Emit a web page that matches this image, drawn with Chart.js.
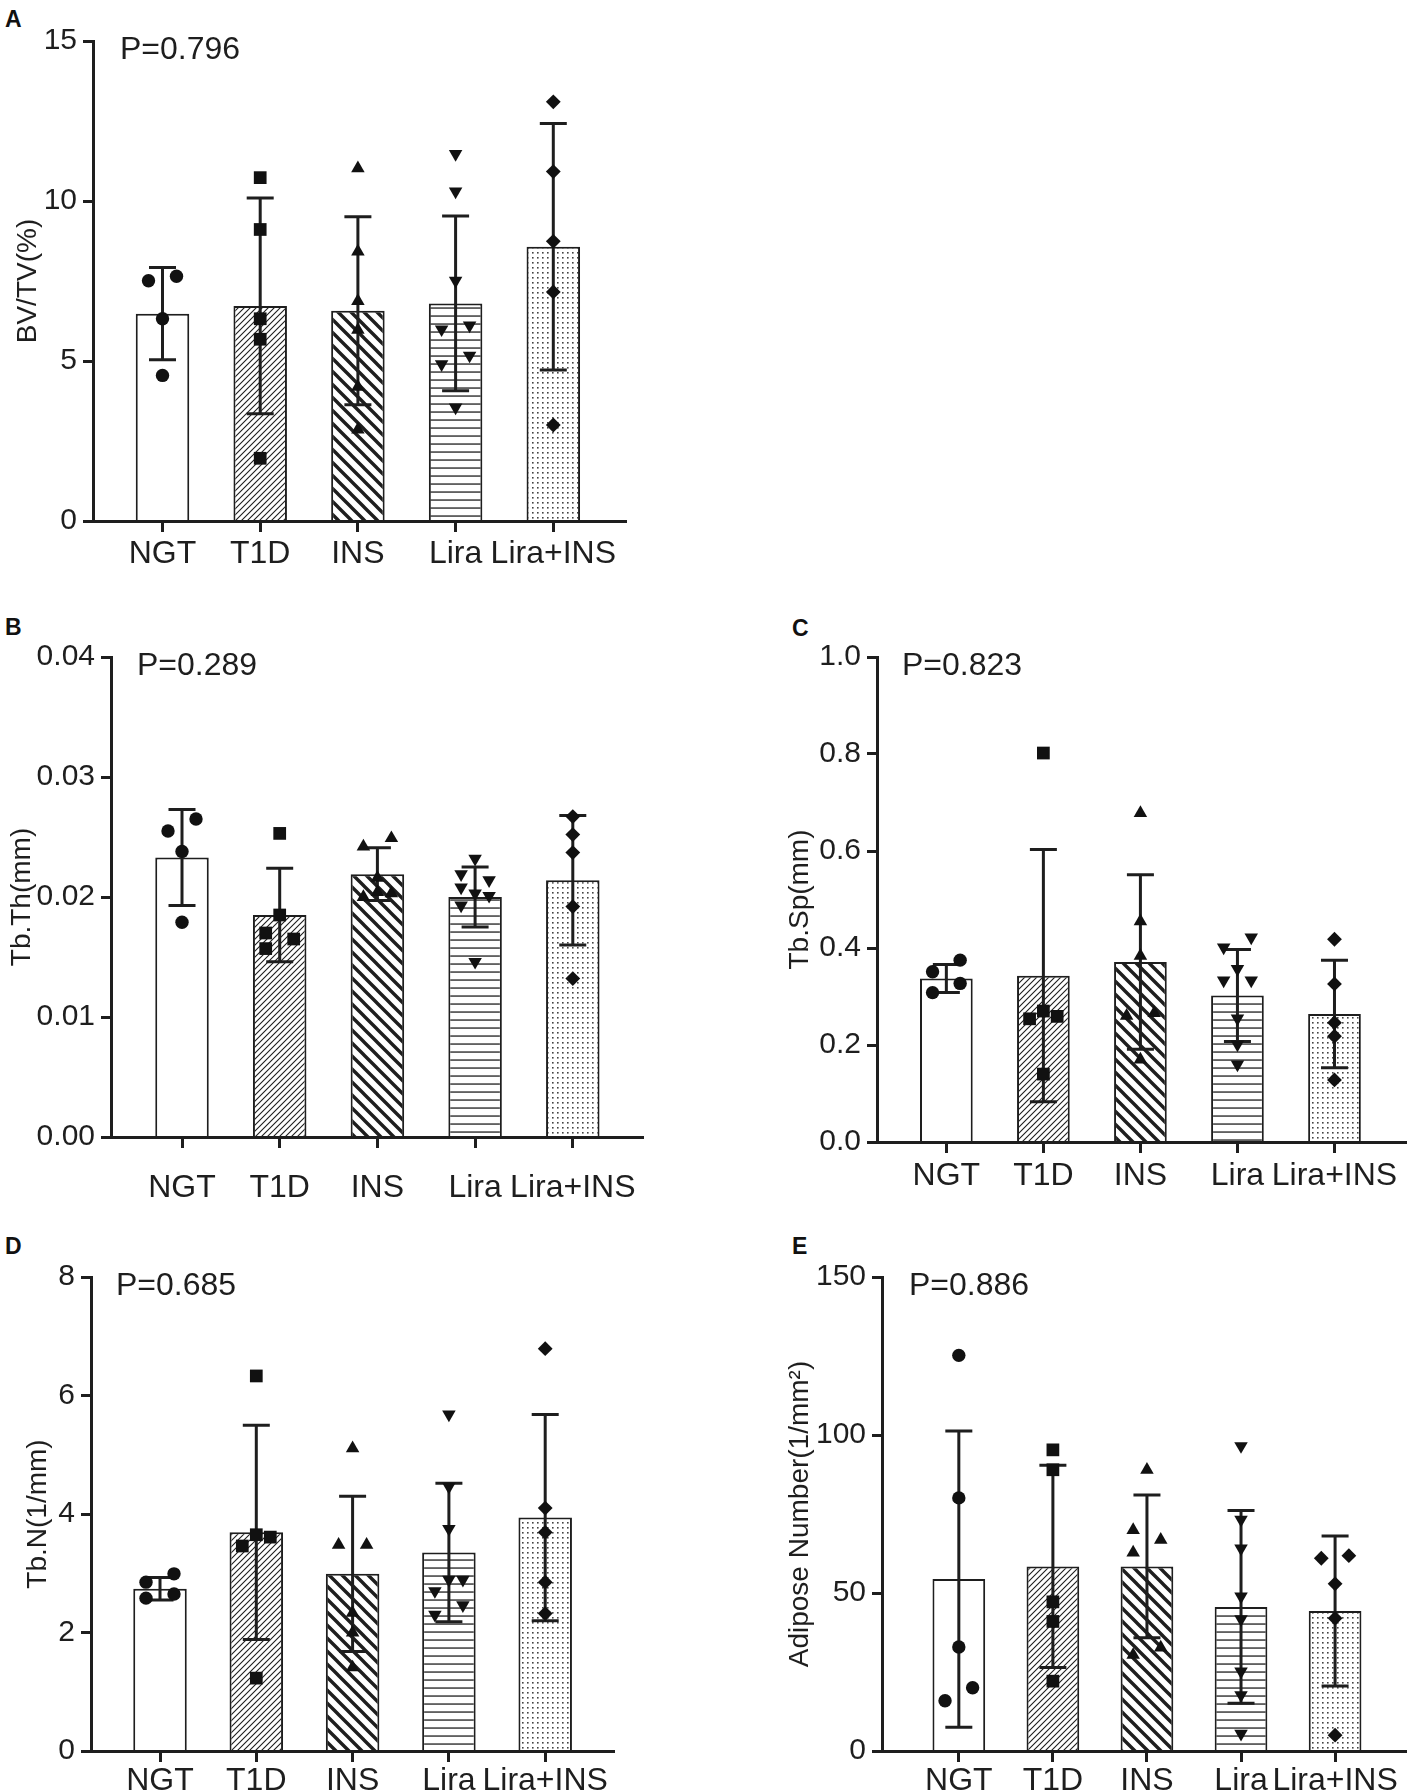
<!DOCTYPE html>
<html>
<head>
<meta charset="utf-8">
<script src="https://cdn.jsdelivr.net/npm/chart.js@4.4.0/dist/chart.umd.min.js"></script>
<style>
  html, body { margin: 0; padding: 0; background: #fff; width: 1415px; height: 1792px; overflow: hidden; }
  canvas { position: absolute; }
  .tag { position: absolute; font: bold 23px "Liberation Sans", Arial, sans-serif; line-height: 1; color: #111; }
</style>
</head>
<body>
<div class="tag" style="left:5px;top:8px">A</div>
<div class="tag" style="left:5px;top:616px">B</div>
<div class="tag" style="left:792px;top:617px">C</div>
<div class="tag" style="left:5px;top:1235px">D</div>
<div class="tag" style="left:792px;top:1235px">E</div>

<canvas id="cA" width="700" height="600" style="left:0;top:0"></canvas>
<canvas id="cB" width="700" height="620" style="left:0;top:600px"></canvas>
<canvas id="cC" width="655" height="620" style="left:760px;top:600px"></canvas>
<canvas id="cD" width="700" height="620" style="left:0;top:1220px"></canvas>
<canvas id="cE" width="655" height="620" style="left:760px;top:1220px"></canvas>

<script>
// groups on the x axis
const groups = ['NGT', 'T1D', 'INS', 'Lira', 'Lira+INS'];

// A: BV/TV(%)
const bvtvMean = [6.48, 6.72, 6.57, 6.80, 8.57];
const bvtvSD = [1.44, 3.37, 2.94, 2.73, 3.85];
const bvtvPts = [
  [7.51, 7.65, 6.32, 4.55],
  [10.73, 9.11, 6.32, 5.68, 1.96],
  [11.02, 8.42, 6.87, 5.97, 4.19, 2.86],
  [11.47, 10.30, 7.51, 6.11, 5.99, 5.17, 4.90, 3.55],
  [13.10, 10.92, 8.74, 7.16, 3.00]
];
const bvtvTicks = [0, 5, 10, 15];

// B: Tb.Th(mm)
const tbthMean = [0.0233, 0.0185, 0.0219, 0.0200, 0.0214];
const tbthSD = [0.0040, 0.0039, 0.0022, 0.0025, 0.0054];
const tbthPts = [
  [0.0255, 0.0265, 0.0238, 0.0179],
  [0.0253, 0.0185, 0.0170, 0.0165, 0.0157],
  [0.0249, 0.0242, 0.0216, 0.0200, 0.0203, 0.0204],
  [0.0232, 0.0214, 0.0219, 0.0208, 0.0203, 0.0201, 0.0193, 0.0146],
  [0.0267, 0.0252, 0.0237, 0.0192, 0.0132]
];
const tbthTicks = [0, 0.01, 0.02, 0.03, 0.04];

// C: Tb.Sp(mm)
const tbspMean = [0.337, 0.343, 0.371, 0.302, 0.264];
const tbspSD = [0.029, 0.260, 0.180, 0.095, 0.111];
const tbspPts = [
  [0.351, 0.375, 0.308, 0.327],
  [0.802, 0.270, 0.254, 0.259, 0.140],
  [0.678, 0.455, 0.384, 0.266, 0.260, 0.170],
  [0.422, 0.401, 0.357, 0.333, 0.333, 0.255, 0.201, 0.160],
  [0.418, 0.326, 0.246, 0.218, 0.128]
];
const tbspTicks = [0, 0.2, 0.4, 0.6, 0.8, 1.0];

// D: Tb.N(1/mm)
const tbnMean = [2.74, 3.69, 2.99, 3.35, 3.94];
const tbnSD = [0.19, 1.81, 1.31, 1.17, 1.74];
const tbnPts = [
  [2.85, 2.99, 2.58, 2.65],
  [6.33, 3.65, 3.61, 3.46, 1.23],
  [5.11, 3.48, 3.48, 2.33, 2.00, 1.41],
  [5.68, 4.46, 3.75, 2.89, 2.89, 2.70, 2.46, 2.30],
  [6.79, 4.10, 3.69, 2.85, 2.32]
];
const tbnTicks = [0, 2, 4, 6, 8];

// E: adipose number
const adipMean = [54.4, 58.4, 58.4, 45.6, 44.3];
const adipSD = [46.9, 32.0, 22.6, 30.5, 23.7];
const adipPts = [
  [125.2, 80.1, 32.9, 15.9, 20.0],
  [95.3, 89.0, 47.2, 41.0, 22.1],
  [89.0, 69.9, 66.8, 62.8, 30.4, 32.7],
  [96.5, 73.2, 64.1, 48.9, 41.7, 25.2, 17.7, 5.5],
  [61.8, 61.0, 52.9, 42.0, 5.0]
];
const adipTicks = [0, 50, 100, 150];

const pValues = ['P=0.796', 'P=0.289', 'P=0.823', 'P=0.685', 'P=0.886'];

Chart.defaults.font.family = '"Liberation Sans", Arial, sans-serif';
const INK = '#1e1e1e';

// bar fills
function makePattern(kind) {
  if (kind === 'plain') return '#ffffff';
  const c = document.createElement('canvas');
  const g = c.getContext('2d');
  let n;
  if (kind === 'fine') n = 6;
  else if (kind === 'bold') n = 13;
  else if (kind === 'hlines') n = 8;
  else n = 5;
  c.width = n; c.height = n;
  g.fillStyle = '#fff';
  g.fillRect(0, 0, n, n);
  g.strokeStyle = INK;
  g.fillStyle = INK;
  if (kind === 'fine') {
    g.lineWidth = 1.1;
    g.beginPath();
    g.moveTo(-1, n + 1); g.lineTo(n + 1, -1);
    g.moveTo(-1, 1); g.lineTo(1, -1);
    g.moveTo(n - 1, n + 1); g.lineTo(n + 1, n - 1);
    g.stroke();
  } else if (kind === 'bold') {
    g.lineWidth = 3.4;
    g.beginPath();
    g.moveTo(-2, -2); g.lineTo(n + 2, n + 2);
    g.moveTo(-4, n - 4); g.lineTo(4, n + 4);
    g.moveTo(n - 4, -4); g.lineTo(n + 4, 4);
    g.stroke();
  } else if (kind === 'hlines') {
    g.fillRect(0, 3.4, n, 1.3);
  } else {
    g.fillStyle = '#444';
    g.fillRect(2, 2, 1.6, 1.6);
  }
  return g.createPattern(c, 'repeat');
}
const fills = ['plain', 'fine', 'bold', 'hlines', 'dots'].map(makePattern);

const markers = [
  { style: 'circle', r: 6.7, rot: 0 },
  { style: 'rect', r: 9, rot: 0 },
  { style: 'triangle', r: 7.8, rot: 0 },
  { style: 'triangle', r: 7.8, rot: 180 },
  { style: 'rectRot', r: 7.4, rot: 0 }
];

// spread overlapping points sideways (pixel offsets)
function swarm(values, pxPerY, d, h) {
  const order = values.map((v, i) => i).sort((a, b) => values[a] - values[b]);
  const off = values.map(() => 0);
  const clusters = [];
  let cur = [order[0]];
  for (let k = 1; k < order.length; k++) {
    if ((values[order[k]] - values[order[k - 1]]) * pxPerY < d) cur.push(order[k]);
    else { clusters.push(cur); cur = [order[k]]; }
  }
  clusters.push(cur);
  clusters.forEach(c => {
    if (c.length < 2) return;
    const placed = [];
    c.forEach((p, j) => {
      const pref = j % 2 === 0 ? -h : h;
      const cands = [pref, -pref, 0, 2 * pref, -2 * pref];
      const y = values[p] * pxPerY;
      let pick = cands[cands.length - 1];
      for (const cx of cands) {
        if (placed.every(q => Math.hypot(q.x - cx, q.y - y) >= d)) { pick = cx; break; }
      }
      off[p] = pick;
      placed.push({ x: pick, y: y });
    });
  });
  return off;
}

const panels = [
  { id: 'cA', box: [0, 0, 700, 600], axisX: 93, top: 41, bottom: 521, right: 626, first: 162.5, unit: 97.7,
    titleX: 28, labelPad: 3, pDx: 27, title: 'BV/TV(%)', p: pValues[0],
    mean: bvtvMean, sd: bvtvSD, pts: bvtvPts, ticks: bvtvTicks, digits: 0 },
  { id: 'cB', box: [0, 600, 700, 620], axisX: 111, top: 657, bottom: 1137, right: 643, first: 182, unit: 97.7,
    titleX: 22, labelPad: 21, pDx: 26, title: 'Tb.Th(mm)', p: pValues[1],
    mean: tbthMean, sd: tbthSD, pts: tbthPts, ticks: tbthTicks, digits: 2 },
  { id: 'cC', box: [760, 600, 655, 620], axisX: 877, top: 657, bottom: 1142, right: 1414, first: 947.4, unit: 98.5,
    titleX: 800, labelPad: 4, pDx: 25, title: 'Tb.Sp(mm)', p: pValues[2],
    mean: tbspMean, sd: tbspSD, pts: tbspPts, ticks: tbspTicks, digits: 1 },
  { id: 'cD', box: [0, 1220, 700, 620], axisX: 91, top: 1277, bottom: 1751, right: 614, first: 160, unit: 96.3,
    titleX: 38, labelPad: 0, pDx: 25, title: 'Tb.N(1/mm)', p: pValues[3],
    mean: tbnMean, sd: tbnSD, pts: tbnPts, ticks: tbnTicks, digits: 0 },
  { id: 'cE', box: [760, 1220, 655, 620], axisX: 882, top: 1277, bottom: 1751, right: 1414, first: 960, unit: 95.5,
    titleX: 800, labelPad: 0, pDx: 27, title: 'Adipose Number(1/mm\u00B2)', p: pValues[4],
    mean: adipMean, sd: adipSD, pts: adipPts, ticks: adipTicks, digits: 0 }
];

function drawPanel(P) {
  const [bl, bt, bw, bh] = P.box;
  const titleSize = 28;
  const padL = P.titleX - titleSize * 1.2 / 2 - bl;
  const yW = P.axisX - bl - padL;
  const padT = P.top - bt;
  const xH = bh - (P.bottom - bt);
  const padR = bl + bw - P.right;
  const xmin = -(P.first - P.axisX) / P.unit;
  const xmax = (P.right - P.first) / P.unit;
  const ymax = P.ticks[P.ticks.length - 1];
  const pxPerY = (P.bottom - P.top) / ymax;

  const pointSets = P.pts.map((vals, g) => {
    const off = swarm(vals, pxPerY, 13, 14);
    const m = markers[g];
    return {
      type: 'scatter',
      data: vals.map((v, k) => ({ x: g + off[k] / P.unit, y: v })),
      pointStyle: m.style,
      pointRadius: m.r,
      pointRotation: m.rot,
      pointBackgroundColor: '#111',
      pointBorderWidth: 0,
      order: 0
    };
  });

  const barSet = {
    type: 'bar',
    data: P.mean.map((m, g) => ({ x: g, y: m })),
    backgroundColor: fills,
    borderColor: INK,
    borderWidth: 2,
    categoryPercentage: 1,
    barPercentage: 53.5 / P.unit,
    order: 1
  };

  const errorBars = {
    id: 'errorBars',
    afterDatasetDraw(chart, args) {
      if (args.meta.type !== 'bar') return;
      const { ctx, scales: { x, y } } = chart;
      ctx.save();
      ctx.strokeStyle = INK;
      ctx.lineWidth = 3;
      P.mean.forEach((m, g) => {
        const cx = x.getPixelForValue(g);
        const yt = y.getPixelForValue(m + P.sd[g]);
        const yb = y.getPixelForValue(m - P.sd[g]);
        ctx.beginPath();
        ctx.moveTo(cx, yt); ctx.lineTo(cx, yb);
        ctx.moveTo(cx - 13.5, yt); ctx.lineTo(cx + 13.5, yt);
        ctx.moveTo(cx - 13.5, yb); ctx.lineTo(cx + 13.5, yb);
        ctx.stroke();
      });
      ctx.restore();
    }
  };

  const pLabel = {
    id: 'pLabel',
    afterDraw(chart) {
      const { ctx, chartArea } = chart;
      ctx.save();
      ctx.font = '32px "Liberation Sans", Arial, sans-serif';
      ctx.fillStyle = INK;
      ctx.textBaseline = 'middle';
      ctx.fillText(P.p, chartArea.left + P.pDx, chartArea.top + 9);
      ctx.restore();
    }
  };

  new Chart(document.getElementById(P.id), {
    data: { datasets: [...pointSets, barSet] },
    options: {
      responsive: false,
      animation: false,
      layout: { padding: { left: padL, top: padT, right: padR, bottom: 0 } },
      plugins: { legend: { display: false }, tooltip: { enabled: false } },
      scales: {
        x: {
          type: 'linear',
          offset: false,
          min: xmin,
          max: xmax,
          afterBuildTicks: s => { s.ticks = groups.map((_, i) => ({ value: i })); },
          afterFit: s => { s.height = xH; },
          ticks: {
            callback: v => groups[v],
            autoSkip: false,
            maxRotation: 0,
            padding: P.labelPad,
            color: INK,
            font: { size: 32 }
          },
          grid: { offset: false, drawOnChartArea: false, drawTicks: true, tickLength: 11, tickWidth: 3, tickColor: INK },
          border: { display: true, color: INK, width: 3, z: 1 }
        },
        y: {
          type: 'linear',
          min: 0,
          max: ymax,
          afterBuildTicks: s => { s.ticks = P.ticks.map(v => ({ value: v })); },
          afterFit: s => { s.width = yW; },
          ticks: {
            callback: v => Number(v).toFixed(P.digits),
            padding: 6,
            color: INK,
            font: { size: 30 }
          },
          grid: { drawOnChartArea: false, drawTicks: true, tickLength: 10, tickWidth: 3, tickColor: INK },
          border: { display: true, color: INK, width: 3, z: 1 },
          title: { display: true, text: P.title, color: INK, padding: 0, font: { size: titleSize } }
        }
      }
    },
    plugins: [errorBars, pLabel]
  });
}

panels.forEach(drawPanel);
</script>
</body>
</html>
